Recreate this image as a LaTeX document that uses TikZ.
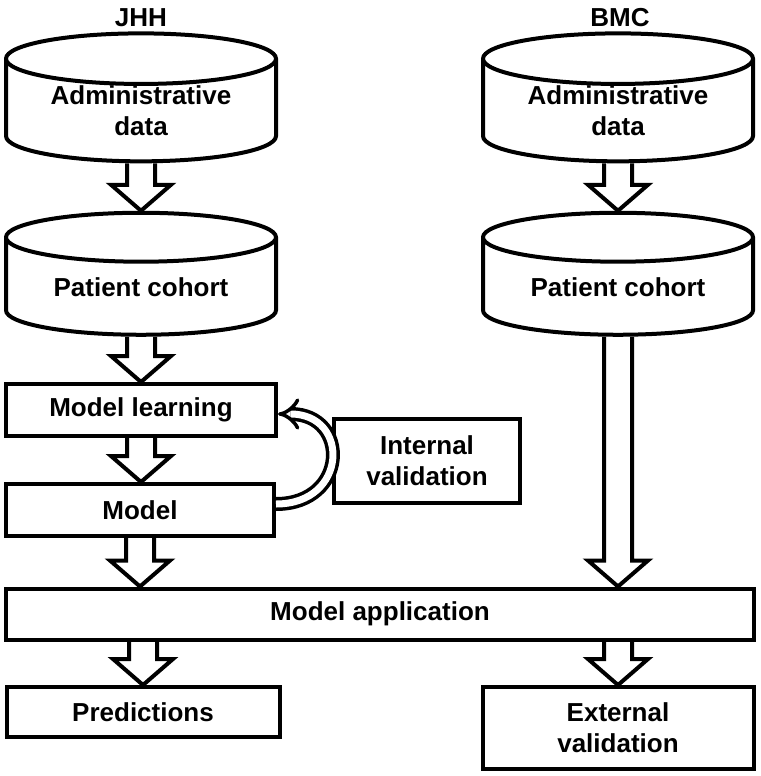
\documentclass[tikz,border=0pt]{standalone}
\usepackage{fontspec}
\setmainfont{Liberation Sans}
\usetikzlibrary{shapes.geometric,arrows.meta,calc,positioning}

\begin{document}
\begin{tikzpicture}[x=1pt, y=-1pt,
    line width=4pt,
    every node/.style={font=\fontsize{26}{31}\selectfont\bfseries, align=center}, % General options for all nodes
    % Define styles for the boxes
    box/.style={draw, rectangle, inner sep=0pt},
    db/.style={draw, cylinder, shape border rotate=90, aspect=0.28,
      minimum width=270pt, minimum height=122pt, inner sep=0pt},
    % hollow block arrow, drawn straight down from the start node
    fat arrow/.style={line join=miter, to path={
        let \p1=(\tikztostart), \p2=(\tikztotarget) in
        (\x1-14pt,\y1) -- (\x1-14pt,\y2+26pt) -- (\x1-30pt,\y2+26pt) -- (\x1,\y2)
        -- (\x1+30pt,\y2+26pt) -- (\x1+14pt,\y2+26pt) -- (\x1+14pt,\y1)}},
    loop arrow/.style={double, double distance=7pt, line width=3.5pt, -{Implies}}
  ]
  \useasboundingbox (0,0) rectangle (760,776);

  % Site labels
  \node (jhh) at (141,18) {JHH};
  \node (bmc) at (620,18) {BMC};

  % Data sources (text sits below the shape centre of a cylinder)
  \node[db] (adm1) at (141,111) {Administrative\\data};
  \node[db] (coh1) at (141,287) {Patient cohort};
  \node[db] (adm2) at (618,111) {Administrative\\data};
  \node[db] (coh2) at (618,287) {Patient cohort};

  % Model boxes
  \node[box, minimum width=270pt, minimum height=52pt] (learn) at (141,410) {Model learning};
  \node[box, minimum width=268pt, minimum height=52pt] (model) at (140,510) {Model};
  \node[box, minimum width=186pt, minimum height=84pt] (intval) at (427,461) {Internal\\validation};
  \node[box, minimum width=748pt, minimum height=51pt] (app) at (380,614) {Model application};
  \node[box, minimum width=273pt, minimum height=50pt] (pred) at (143,712) {Predictions};
  \node[box, minimum width=271pt, minimum height=82pt] (ext) at (618,728) {External\\validation};

  % Block arrows
  \draw[fat arrow] (adm1.south) to (coh1.north);
  \draw[fat arrow] (coh1.south) to (learn.north);
  \draw[fat arrow] (learn.south) to (model.north);
  \draw[fat arrow] (model.south) to (model.south |- app.north);
  \draw[fat arrow] (app.south -| pred.north) to (pred.north);
  \draw[fat arrow] (adm2.south) to (coh2.north);
  \draw[fat arrow] (coh2.south) to (coh2.south |- app.north);
  \draw[fat arrow] (app.south -| ext.north) to (ext.north);

  % Validation loop
  \draw[loop arrow] ([yshift=6pt]model.east) to[out=0, in=0, looseness=2.05] ([yshift=-4pt]learn.east);
\end{tikzpicture}
\end{document}
